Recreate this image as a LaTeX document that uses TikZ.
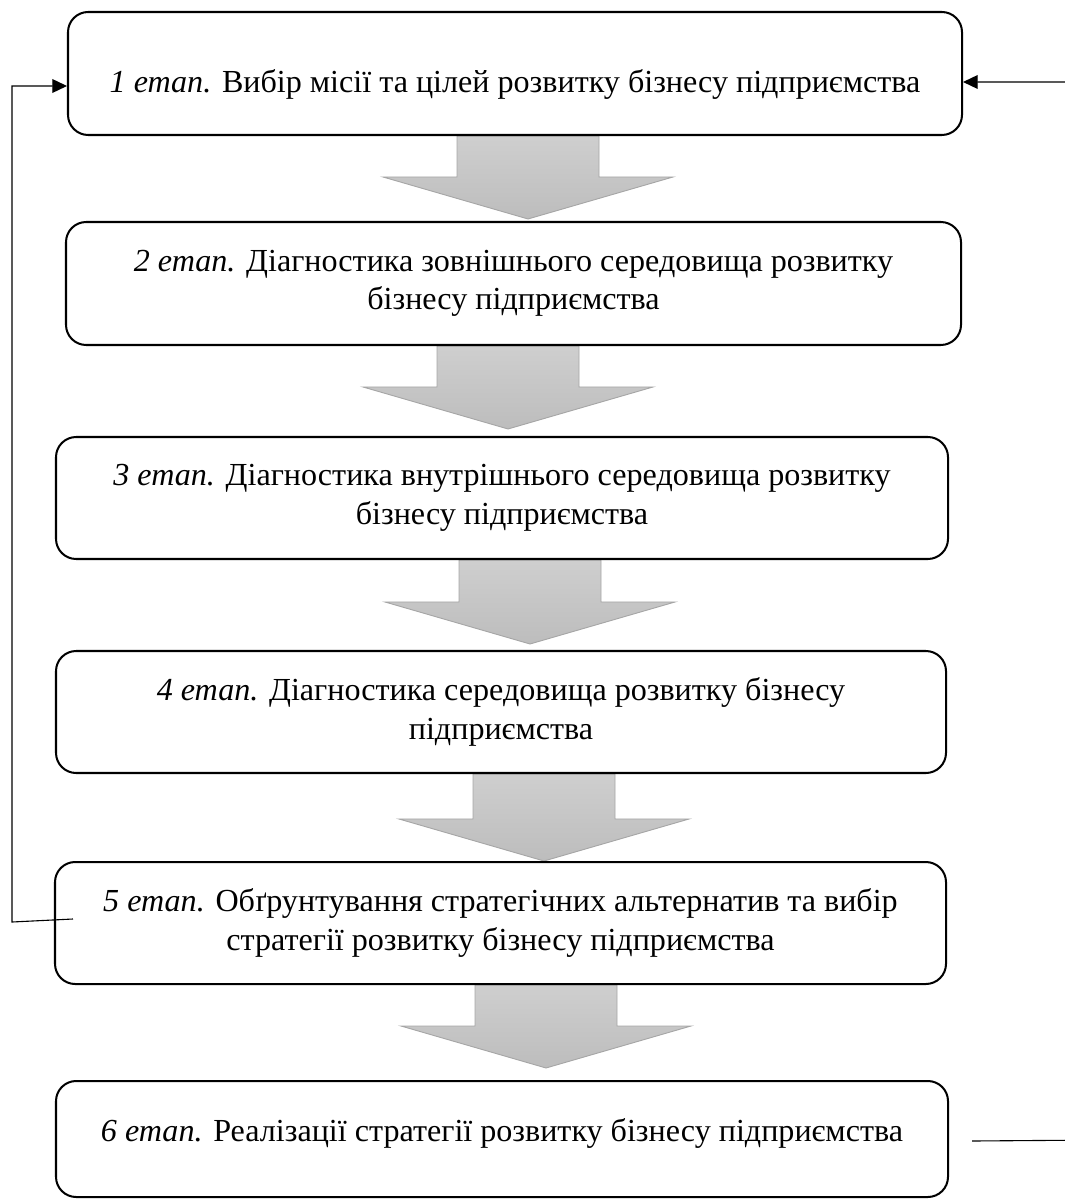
\documentclass[tikz,border=0pt]{standalone}
\usepackage{fontspec}
\setmainfont{Liberation Serif}
\usetikzlibrary{arrows.meta, calc, backgrounds}

\begin{document}
\begin{tikzpicture}[
  x=0.545pt, y=-0.545pt,
  stage/.style 2 args={draw, line width=1.1pt, rounded corners=11pt, inner sep=0pt, align=center,
    minimum width=#1*0.545pt, minimum height=#2*0.545pt, font=\fontsize{17.5}{21}\selectfont},
  blockarr/.style={draw=black!35, line width=0.5pt, top color=black!19, bottom color=black!26},
  feedback/.style={line width=0.6pt},
  tip/.style={-{Triangle[length=8pt, width=7.5pt]}},
]
\useasboundingbox (0,0) rectangle (1065,1200);
\clip (0,0) rectangle (1065,1200);

% Stages
\node[stage={894}{123}, text height=25pt, text depth=4pt] (b1) at (515,73.5) {\textit{1 етап.} Вибір місії та цілей розвитку бізнесу підприємства};
\node[stage={895}{123}] (b2) at (513.5,283.5) {\textit{2 етап.} Діагностика зовнішнього середовища розвитку\\бізнесу підприємства};
\node[stage={892}{122}] (b3) at (502,498) {\textit{3 етап.} Діагностика внутрішнього середовища розвитку\\бізнесу підприємства};
\node[stage={890}{122}] (b4) at (501,712) {\textit{4 етап.} Діагностика середовища розвитку бізнесу\\підприємства};
\node[stage={891}{122}] (b5) at (500.5,923) {\textit{5 етап.} Обґрунтування стратегічних альтернатив та вибір\\стратегії розвитку бізнесу підприємства};
\node[stage={892}{116}, text height=11pt, text depth=8pt] (b6) at (502,1139) {\textit{6 етап.} Реалізації стратегії розвитку бізнесу підприємства};

% Block arrows between stages
\begin{scope}[on background layer]
\foreach \a/\b/\x/\g in {b1/b2/528/2, b2/b3/508/7, b3/b4/530/6, b4/b5/544/0, b5/b6/546/12}{
  \coordinate (top) at (\x,0 |- \a.south);
  \path (\b.north) ++(0,-\g) coordinate (tip0);
  \coordinate (tip) at (\x,0 |- tip0);
  \draw[blockarr] ($(top)+(-71,0)$) -- ($(top)+(71,0)$) -- ($(tip)+(71,-42)$) -- ($(tip)+(145,-42)$)
    -- (tip) -- ($(tip)+(-145,-42)$) -- ($(tip)+(-71,-42)$) -- cycle;
}
\end{scope}

% Feedback lines
\draw[feedback, tip] ([shift={(19,-4)}]b5.west) -- ++(-61,3) |- ([shift={(0,12.5)}]b1.west);
\draw[feedback, tip] ([shift={(23,2)}]b6.east) -- ++(130,-1) |- ([shift={(0,8.5)}]b1.east);

\end{tikzpicture}
\end{document}
